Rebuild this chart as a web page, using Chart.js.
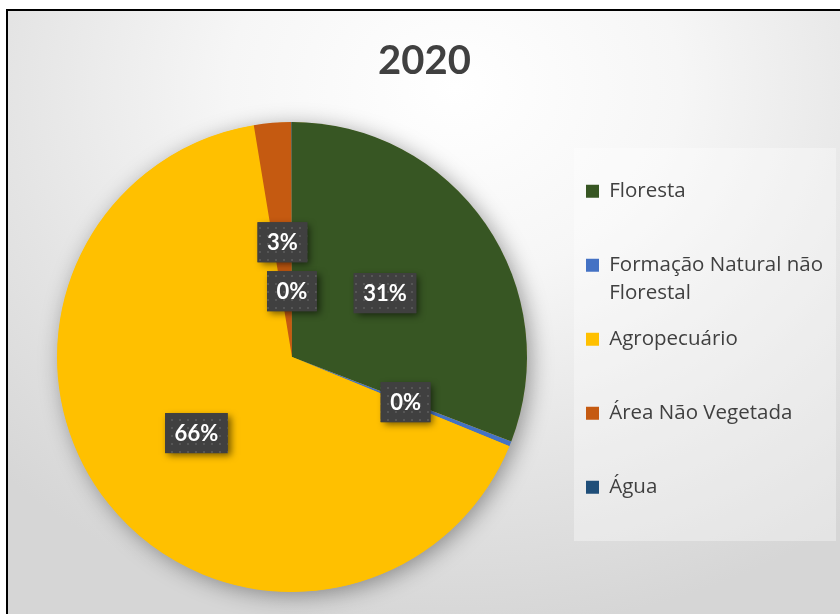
<!DOCTYPE html>
<html>
<head>
<meta charset="utf-8">
<script src="https://cdn.jsdelivr.net/npm/chart.js@4.4.1/dist/chart.umd.min.js"></script>
<style>
  html, body { margin: 0; padding: 0; background: #ffffff; }
  #wrap { position: relative; width: 840px; height: 614px; overflow: hidden; }
  #frame {
    position: absolute; left: 6px; top: 9px; width: 860px; height: 640px;
    border-left: 2px solid #000; border-top: 2px solid #000;
    background: radial-gradient(ellipse 75% 85% at 52% 12%, #ffffff 0%, #f6f6f6 35%, #e4e4e4 70%, #d6d6d6 100%);
  }
  #c { position: absolute; left: 0; top: 0; }
</style>
</head>
<body>
<div id="wrap">
  <div id="frame"></div>
  <canvas id="c" width="840" height="614"></canvas>
</div>
<script>
// ---- data ----
const title = '2020';
const categories = ['Floresta', 'Formação Natural não Florestal', 'Agropecuário', 'Área Não Vegetada', 'Água'];
const values = [30.85, 0.35, 66.2, 2.55, 0.05];
const colors = ['#375623', '#4472C4', '#FFC000', '#C55A11', '#1F4E79'];

// ---- style ----
const labelRadius = [0.48, 0.52, 0.52, 0.49, 0.28];
const TITLE_FONT = 'Lato, "Open Sans", "DejaVu Sans", sans-serif';
const LEG_FONT = '"Open Sans", Lato, "DejaVu Sans", sans-serif';
const LEG_SIZE = 20.5;
const LEG_PAD = 18;
const BOX = 13;
const WRAP_W = 228;
const PIE_CX = 292;      // desired pie centre x
const LEGEND_LEFT = 568; // desired legend left edge

function makeDotPattern(ctx) {
  const t = document.createElement('canvas');
  t.width = 8; t.height = 8;
  const c = t.getContext('2d');
  c.fillStyle = '#404040';
  c.fillRect(0, 0, 8, 8);
  c.fillStyle = '#565656';
  c.fillRect(3, 3, 2, 2);
  return ctx.createPattern(t, 'repeat');
}

function wrapText(ctx, text, maxW) {
  const words = text.split(' ');
  const lines = [];
  let cur = '';
  words.forEach(wd => {
    const test = cur ? cur + ' ' + wd : wd;
    if (ctx.measureText(test).width > maxW && cur) { lines.push(cur); cur = wd; }
    else cur = test;
  });
  if (cur) lines.push(cur);
  while (lines.length < 2) lines.push('');
  return lines;
}

const panelPlugin = {
  id: 'legendPanel',
  beforeDraw(chart) {
    const ctx = chart.ctx;
    const lg = chart.legend;
    if (lg && lg.legendHitBoxes && lg.legendHitBoxes.length) {
      const hb = lg.legendHitBoxes;
      const top = hb[0].top - 33;
      const last = hb[hb.length - 1];
      const bottom = last.top + last.height + 8;
      ctx.save();
      ctx.fillStyle = 'rgba(255,255,255,0.35)';
      ctx.fillRect(lg.left + 6, top, 836 - (lg.left + 6), bottom - top);
      ctx.restore();
    }
  },
  beforeDatasetsDraw(chart) {
    const ctx = chart.ctx;
    const meta = chart.getDatasetMeta(0);
    if (!meta.data.length) return;
    const a = meta.data[0];
    ctx.save();
    ctx.shadowColor = 'rgba(0,0,0,0.38)';
    ctx.shadowBlur = 22;
    ctx.shadowOffsetX = 4;
    ctx.shadowOffsetY = 4;
    ctx.fillStyle = '#FFC000';
    ctx.beginPath();
    ctx.arc(a.x, a.y, a.outerRadius - 0.5, 0, Math.PI * 2);
    ctx.fill();
    ctx.restore();
  }
};

const labelPlugin = {
  id: 'pctLabels',
  afterDatasetsDraw(chart) {
    const ctx = chart.ctx;
    const meta = chart.getDatasetMeta(0);
    const data = chart.data.datasets[0].data;
    const total = data.reduce((s, v) => s + v, 0);
    const pattern = makeDotPattern(ctx);
    meta.data.forEach((arc, i) => {
      const p = arc.getProps(['x', 'y', 'startAngle', 'endAngle', 'outerRadius'], true);
      const mid = (p.startAngle + p.endAngle) / 2;
      const r = p.outerRadius * labelRadius[i];
      const cx = p.x + Math.cos(mid) * r;
      const cy = p.y + Math.sin(mid) * r;
      const txt = Math.round(data[i] / total * 100) + '%';
      ctx.save();
      ctx.font = 'bold 22px ' + TITLE_FONT;
      const w = ctx.measureText(txt).width + 19;
      const h = 40;
      ctx.shadowColor = 'rgba(0,0,0,0.55)';
      ctx.shadowBlur = 7;
      ctx.shadowOffsetX = 3;
      ctx.shadowOffsetY = 3;
      ctx.fillStyle = '#404040';
      ctx.fillRect(cx - w / 2, cy - h / 2, w, h);
      ctx.shadowColor = 'transparent';
      ctx.fillStyle = pattern;
      ctx.fillRect(cx - w / 2, cy - h / 2, w, h);
      ctx.fillStyle = '#ffffff';
      ctx.textAlign = 'center';
      ctx.textBaseline = 'middle';
      ctx.fillText(txt, cx, cy + 1);
      ctx.restore();
    });
  }
};

const ctx = document.getElementById('c').getContext('2d');

// measure legend width to place pie and legend like the reference
ctx.save();
ctx.font = LEG_SIZE + 'px ' + LEG_FONT;
let maxT = 0;
categories.forEach(t => wrapText(ctx, t, WRAP_W).forEach(l => { maxT = Math.max(maxT, ctx.measureText(l).width); }));
ctx.restore();
const legendW = LEG_PAD + BOX + LEG_SIZE / 2 + maxT + 10;
const padRight = Math.max(0, 840 - LEGEND_LEFT - legendW);
const padLeft = 2 * PIE_CX - LEGEND_LEFT;

new Chart(ctx, {
  type: 'pie',
  data: {
    labels: categories,
    datasets: [{
      data: values,
      backgroundColor: colors,
      borderWidth: 0,
      hoverOffset: 0
    }]
  },
  options: {
    responsive: false,
    animation: false,
    layout: { padding: { left: padLeft, right: padRight, top: 0, bottom: 22 } },
    plugins: {
      title: {
        display: true,
        text: title,
        color: '#404040',
        font: { family: TITLE_FONT, size: 40, weight: 'bold', lineHeight: 1.2 },
        padding: { top: 37, bottom: 37 }
      },
      legend: {
        display: true,
        position: 'right',
        align: 'center',
        fullSize: false,
        labels: {
          color: '#404040',
          font: { family: LEG_FONT, size: LEG_SIZE, lineHeight: '28px' },
          boxWidth: BOX,
          boxHeight: BOX,
          padding: LEG_PAD,
          generateLabels(chart) {
            const items = Chart.overrides.pie.plugins.legend.labels.generateLabels(chart);
            const c = chart.ctx;
            c.save();
            c.font = LEG_SIZE + 'px ' + LEG_FONT;
            items.forEach(it => {
              it.text = wrapText(c, it.text, WRAP_W);
              it.lineWidth = 0;
              it.strokeStyle = 'transparent';
            });
            c.restore();
            return items;
          }
        }
      },
      tooltip: { enabled: false }
    }
  },
  plugins: [panelPlugin, labelPlugin]
});
</script>
</body>
</html>
